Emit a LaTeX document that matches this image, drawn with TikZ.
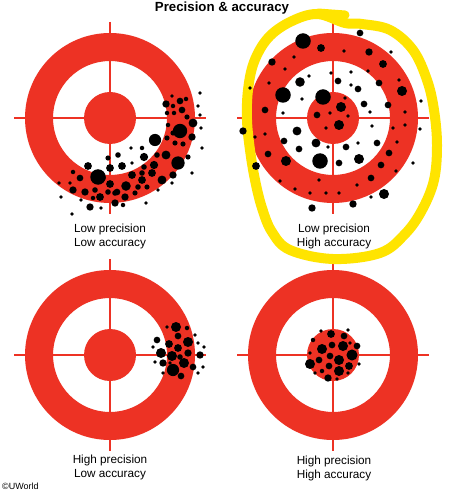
\documentclass[tikz,border=0pt]{standalone}
\usepackage{fontspec}
\setmainfont{Liberation Sans}
\definecolor{tred}{RGB}{237,50,36}
\definecolor{hl}{RGB}{255,228,0}
\newcommand\mytarget[2]{%
  \fill[tred,even odd rule] (#1,#2) circle[radius=85bp] (#1,#2) circle[radius=57bp];
  \fill[tred] (#1,#2) circle[radius=26bp];
  \draw[tred,line width=2bp] ({#1-96},#2) -- ({#1+96},#2) (#1,{#2-96}) -- (#1,{#2+96});
}
\begin{document}
\begin{tikzpicture}[x=1bp,y=-1bp,
  lbl/.style={font=\fontsize{11.8}{14}\selectfont, anchor=base, inner sep=0pt},
  dot/.style={fill=black}]
\useasboundingbox (0,0) rectangle (474,495);
\fill[white] (0,0) rectangle (474,495);

% targets
\mytarget{110}{118}
\mytarget{333}{118}
\mytarget{110}{355}
\mytarget{333}{355}

% yellow highlight loop
\draw[hl,line width=10bp,line cap=round,line join=round]
  plot[smooth cycle,tension=0.6] coordinates {(317,14) (290,22) (268,38) (254,62) (248,90) (247,120) (250,150) (255,180) (262,208) (272,232) (290,250) (333,259) (380,253) (405,234) (422,210) (434,180) (437,145) (434,110) (427,80) (413,50) (390,30) (362,24) (345,23)};
\draw[hl,line width=9bp,line cap=round] (318,13) -- (345,15);

% target 1 dots: low precision, low accuracy
\foreach \x/\y/\r in {200/93/1.2,172/96/1.2,180/101/2.5,186/99/1.5,166/104/2.8,173/106/1.5,182/110/2.5,198/106/1.2,167/113/1.5,174/113/1.5,187/117/1.8,193/123/3.5,200/115/1.2,180/131/6,168/125/1.5,173/133/1.8,192/137/2.8,201/128/1.2,155/140/5,167/138/1.8,175/143/1.8,183/144/1.8,202/148/1.2,166/155/3.5,157/155/2,178/163/5.5,188/157/1.8,173/175/2.8,192/173/1.2,162/180/3.5,172/183/1.2,144/157/3.2,154/165/3.2,144/167/2,152/173/3,142/173/2,131/148/1.2,142/148/1.5,122/166/3,110/168/3,118/155/2,108/158/1.8,132/163/1.2,132/175/3,142/180/3,138/187/2,126/186/3.8,115/193/2,98/177/6.5,88/166/3,80/178/2.5,73/172/1.5,70/183/1.2,59/183/1.2,73/190/2.8,85/192/2.8,95/190/2,100/197/3,110/184/3,108/192/2,117/192/2.5,125/197/2.8,115/203/2.8,123/205/1.5,135/193/1.8,147/187/1.8,90/207/2.8,101/208/1.2,81/200/1.2,61/197/1.2,72/214/1.2,146/203/1.2,158/190/1.2,93/198/1.5,103/178/2}
  \fill[dot] (\x,\y) circle[radius={\r*1.1bp+0.6bp}];

% target 2 dots: low precision, high accuracy
\foreach \x/\y/\r in {303/41/6.5,321/48/3,360/33/2.5,344/51/1.2,369/52/2.8,391/52/1.2,272/62/2.8,294/57/1.2,383/64/3,285/69/1.2,368/71/1.2,331/73/1.2,351/72/1.2,309/76/1.2,300/82/3.8,338/81/2.5,379/83/2.5,399/80/1.2,351/85/1.2,269/83/1.2,358/89/2.5,402/91/4,250/88/1.2,421/101/1.2,283/95/6.5,323/97/6.5,302/99/1.2,345/98/1.2,364/104/2.5,388/105/2.5,341/107/4,265/110/2.5,283/113/1.2,330/113/1.2,405/112/1.2,370/112/1.2,317/115/2.5,348/116/1.2,339/125/4,326/128/1.2,372/126/1.2,405/125/1.2,243/131/2.8,297/131/3.5,393/128/1.2,420/129/1.2,284/141/2.5,265/134/1.2,316/143/3.5,328/147/1.2,346/147/2.5,377/143/2.5,358/143/1.2,299/149/2.5,255/137/1.2,397/142/1.2,413/163/1.2,268/154/2.5,286/161/4,320/161/6.5,339/163/2.5,359/159/4,381/165/2.5,389/153/2.5,256/166/3,319/180/1.2,280/181/1.2,371/178/2.5,396/171/1.2,357/185/1.2,295/189/1.2,384/194/4,310/193/1.2,326/193/1.2,339/193/1.2,353/204/2.8,312/208/2.8,371/197/1.2}
  \fill[dot] (\x,\y) circle[radius={\r*1.1bp+0.6bp}];

% target 3 dots: high precision, low accuracy
\foreach \x/\y/\r in {176/327/4,167/327/1.2,187/328/1.5,178/336/2.5,188/342/4,195/335/1.2,169/344/3,157/340/2.5,198/343/1.2,204/347/1.2,178/348/3,188/353/2.8,153/347/1.2,161/353/4,172/356/4,200/355/2.8,163/363/2.8,155/362/1.2,184/363/4,180/357/2,173/370/5,193/367/2.5,198/373/1.2,181/376/2.5,163/373/1.2,170/363/1.2,203/367/1.2}
  \fill[dot] (\x,\y) circle[radius={\r*1.1bp+0.6bp}];

% target 4 dots: high precision, high accuracy
\foreach \x/\y/\r in {331/334/3,321/331/1.2,348/330/1.2,344/336/2.5,313/340/1.5,322/349/4,332/345/2.5,343/346/4,357/346/2.5,352/355/4.5,310/353/1.2,330/356/2.5,319/360/2.5,339/360/4,310/364/4,359/364/1.2,349/366/3,329/366/2.5,315/373/1.2,322/371/1.5,339/371/4,348/373/1.2,328/378/2.8,337/379/1.2,350/343/1.2}
  \fill[dot] (\x,\y) circle[radius={\r*1.1bp+0.6bp}];

% texts
\node[font=\bfseries\fontsize{13.3}{15}\selectfont, anchor=base, inner sep=0pt] (title) at (222,11.5) {Precision \& accuracy};
\node[lbl] (a1) at (110,232) {Low precision};
\node[lbl] (a2) at (110,246) {Low accuracy};
\node[lbl] (b1) at (334,232) {Low precision};
\node[lbl] (b2) at (334,246) {High accuracy};
\node[lbl] (c1) at (110,463) {High precision};
\node[lbl] (c2) at (110,477) {Low accuracy};
\node[lbl] (d1) at (334,464) {High precision};
\node[lbl] (d2) at (334,478) {High accuracy};
\node[font=\fontsize{9}{10}\selectfont, anchor=base west, inner sep=0pt] (copy) at (2,489) {©UWorld};
\end{tikzpicture}
\end{document}
